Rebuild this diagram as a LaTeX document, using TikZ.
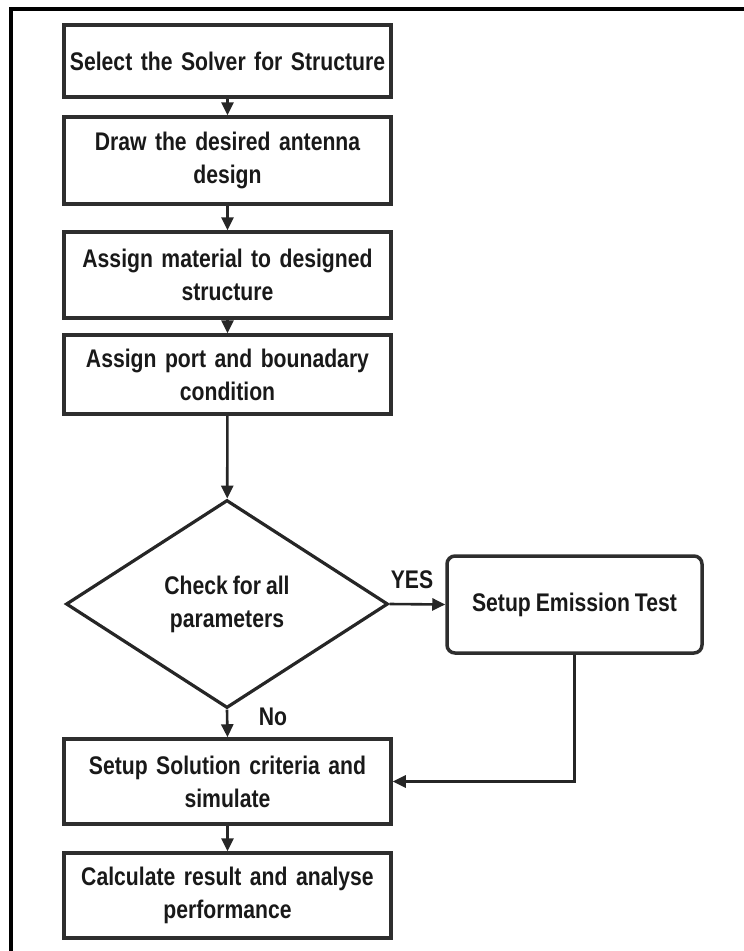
\documentclass[tikz,border=0pt]{standalone}
\usepackage{fontspec}
\newfontfamily\flowfont{Liberation Sans}[FakeStretch=0.83, WordSpace=0.85]
\usetikzlibrary{arrows.meta,shapes.geometric}
\begin{document}
\begin{tikzpicture}[x=1pt,y=-1pt,
  flowtext/.style={font=\flowfont\bfseries\fontsize{25.5}{33}\selectfont, text=black!90},
  stepbox/.style={flowtext, draw=black!82, line width=3.5pt, minimum width=327pt,
    inner sep=0pt, align=center, text width=322pt},
  testbox/.style={flowtext, draw=black!82, line width=3.5pt, rounded corners=8pt,
    minimum width=255pt, minimum height=97pt, inner sep=0pt, align=center},
  decision/.style={flowtext, draw=black!85, line width=3.2pt, shape=diamond, aspect=1.55,
    minimum width=322pt, minimum height=208pt, inner sep=0pt, align=center},
  flow/.style={draw=black!85, line width=2.6pt, -{Triangle[length=13pt,width=12pt]}},
  branch/.style={flowtext}
]
\useasboundingbox (0,0) rectangle (744,951);

% page frame (top and left rules)
\draw[line width=4pt, black] (11,951) -- (11,9) -- (744,9);

% process steps
\node[stepbox, minimum height=72pt] (solver) at (227.5,61) {Select the Solver for Structure};
\node[stepbox, minimum height=87pt] (draw)   at (227.5,160.5) {Draw the desired antenna\\design};
\node[stepbox, minimum height=86pt] (mat)    at (227.5,275) {Assign material to designed\\structure};
\node[stepbox, minimum height=79pt] (port)   at (227.5,374.5) {Assign port and bounadary\\condition};
\node[decision] (check) at (227,604) {Check for all\\parameters};
\node[testbox] (emis) at (574.5,604.5) {Setup Emission Test};
\node[stepbox, minimum height=85pt] (sim)  at (227.5,781.5) {Setup Solution criteria and\\simulate};
\node[stepbox, minimum height=85pt] (calc) at (227.5,895.5) {Calculate result and analyse\\performance};

% connectors
\draw[flow] (solver) -- (draw);
\draw[flow] (draw) -- (mat);
\draw[flow] (mat) -- (port);
\draw[flow] (port) -- (check);
\draw[flow] (check.east) -- (emis.west);
\draw[flow] (check.south) -- (sim.north);
\draw[flow] (emis.south) |- (sim.east);
\draw[flow] (sim) -- (calc);

% branch labels
\node[branch] (yes) at (412,580) {YES};
\node[branch] (no)  at (273,717) {No};
\end{tikzpicture}
\end{document}
